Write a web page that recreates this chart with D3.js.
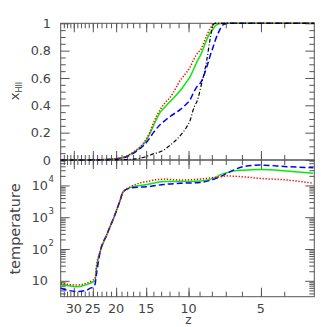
<!DOCTYPE html>
<html>
<head>
<meta charset="utf-8">
<script src="https://cdn.jsdelivr.net/npm/d3@7"></script>
<style>
  body { margin: 0; background: #fff; }
  svg text { font-family: "DejaVu Sans", sans-serif; fill: #444; }
  .tick line { stroke: #555; }
</style>
</head>
<body>
<div id="chart"></div>
<script>
// ionized fraction vs redshift (upper panel)
var zIon =      [34, 25, 22, 20, 18.3, 16.6, 15.3, 14.5, 14.0, 13.1, 12.5, 11.9, 10.8, 10.2, 9.85, 9.55, 9.1, 8.96, 8.4, 8.14, 7.89, 7.76, 7.52, 7.17, 6.8, 3];
var xhiiRed =   [0, 0.001, 0.004, 0.01, 0.025, 0.07, 0.13, 0.2, 0.27, 0.37, 0.42, 0.46, 0.585, 0.64, 0.68, 0.73, 0.79, 0.8, 0.91, 0.96, 0.99, 1, 1, 1, 1, 1];
var xhiiGreen = [0, 0.001, 0.004, 0.01, 0.024, 0.065, 0.12, 0.19, 0.25, 0.35, 0.39, 0.43, 0.51, 0.57, 0.61, 0.66, 0.74, 0.76, 0.88, 0.93, 0.96, 0.98, 0.995, 1, 1, 1];
var xhiiBlue =  [0, 0.001, 0.003, 0.008, 0.02, 0.06, 0.11, 0.16, 0.2, 0.26, 0.29, 0.32, 0.37, 0.41, 0.44, 0.49, 0.55, 0.56, 0.68, 0.76, 0.83, 0.87, 0.93, 0.99, 1, 1];
var xhiiBlack = [0, 0, 0, 0.001, 0.003, 0.008, 0.02, 0.035, 0.045, 0.06, 0.08, 0.11, 0.18, 0.24, 0.29, 0.37, 0.46, 0.51, 0.73, 0.88, 0.99, 1, 1, 1, 1, 1];

// temperature vs redshift (lower panel)
var zTemp =     [34, 32, 29.2, 26.5, 25.7, 24.9, 24.5, 24.1, 23.3, 21.9, 20.5, 19.3, 18.7, 17.4, 15.9, 14.9, 12.7, 10.8, 8.96, 7.63, 7.4, 6.94, 6.51, 5.92, 5.0, 3.9, 3.03];
var tempRed =   [8.3, 7.8, 7.4, 8.5, 9.3, 10.7, 11.5, 32, 83, 275, 930, 3200, 6300, 9100, 12000, 13200, 15800, 14800, 15800, 18200, 18600, 20000, 19500, 18600, 16600, 14800, 11700];
var tempGreen = [7.4, 7.1, 6.5, 7.6, 8.3, 9.3, 9.8, 28, 83, 275, 930, 3200, 6300, 8700, 10000, 10700, 13200, 13200, 13800, 18600, 21400, 25100, 28200, 30200, 31600, 28200, 24000];
var tempBlue =  [5.8, 5.1, 4.6, 5.1, 5.8, 6.5, 7.6, 17.8, 83, 275, 930, 3200, 6300, 8300, 8900, 9100, 10700, 11700, 12300, 17000, 18600, 24000, 30200, 38900, 43600, 38900, 36300];

// axis ticks and labels
var zTicks = [30, 25, 20, 15, 10, 5];
var zMinor = d3.range(4, 34);
var xhiiTicks = [0, 0.2, 0.4, 0.6, 0.8, 1];
var xhiiTickLabels = ["0", "0.2", "0.4", "0.6", "0.8", "1"];
var tempTicks = [10, 100, 1000, 10000];
var tempTickExp = ["", "2", "3", "4"];

var W = 327, H = 327;
var left = 60.7, right = 314.3, top1 = 23.3, mid = 160, bot = 296.7;

var svg = d3.select("#chart").append("svg")
  .attr("width", W).attr("height", H);

var x = d3.scaleLog().domain([34, 3]).range([left, right]);
var yIon = d3.scaleLinear().domain([0, 1]).range([mid, top1]);
var yTemp = d3.scaleLog().domain([Math.pow(10, 0.5), Math.pow(10, 4.8)]).range([bot, mid]);

var minorTemp = [];
[1, 10, 100, 1000, 10000].forEach(function(d) {
  for (var k = 2; k <= 9; k++) {
    var v = d * k;
    if (v >= yTemp.domain()[0] && v <= yTemp.domain()[1]) minorTemp.push(v);
  }
});
var minorIon = d3.range(0, 1.0001, 0.05).filter(function(v) { return Math.abs(v * 5 - Math.round(v * 5)) > 1e-6; });

// draw ticks with d3 axes, no domain path
function ticks(axisFn, scale, values, size, tx, ty) {
  var g = svg.append("g")
    .attr("transform", "translate(" + tx + "," + ty + ")")
    .call(axisFn(scale).tickValues(values).tickSize(size).tickFormat(""));
  g.select(".domain").remove();
}
var MAJ = -9, MIN = -5;

// top panel
ticks(d3.axisLeft, yIon, xhiiTicks, MAJ, left, 0);
ticks(d3.axisLeft, yIon, minorIon, MIN, left, 0);
ticks(d3.axisRight, yIon, xhiiTicks, MAJ, right, 0);
ticks(d3.axisRight, yIon, minorIon, MIN, right, 0);
ticks(d3.axisTop, x, zTicks, MAJ, 0, top1);
ticks(d3.axisTop, x, zMinor, MIN, 0, top1);
ticks(d3.axisBottom, x, zTicks, MAJ, 0, mid);
ticks(d3.axisBottom, x, zMinor, MIN, 0, mid);
// bottom panel
ticks(d3.axisLeft, yTemp, tempTicks, MAJ, left, 0);
ticks(d3.axisLeft, yTemp, minorTemp, MIN, left, 0);
ticks(d3.axisRight, yTemp, tempTicks, MAJ, right, 0);
ticks(d3.axisRight, yTemp, minorTemp, MIN, right, 0);
ticks(d3.axisTop, x, zTicks, MAJ, 0, mid);
ticks(d3.axisTop, x, zMinor, MIN, 0, mid);
ticks(d3.axisBottom, x, zTicks, MAJ, 0, bot);
ticks(d3.axisBottom, x, zMinor, MIN, 0, bot);

// frames
[[top1, mid], [mid, bot]].forEach(function(p) {
  svg.append("rect")
    .attr("x", left).attr("y", p[0])
    .attr("width", right - left).attr("height", p[1] - p[0])
    .attr("fill", "none").attr("stroke", "#555").attr("stroke-width", 1);
});

// curves
function drawLine(zs, vs, yScale, color, dash, w) {
  var pts = zs.map(function(z, i) { return [x(z), yScale(vs[i])]; });
  svg.append("path")
    .attr("d", d3.line().curve(d3.curveMonotoneX)(pts))
    .attr("fill", "none")
    .attr("stroke", color)
    .attr("stroke-width", w)
    .attr("stroke-dasharray", dash);
}
drawLine(zIon, xhiiGreen, yIon, "#00ee00", null, 1.5);
drawLine(zIon, xhiiBlue, yIon, "#0000ff", "6 3", 1.5);
drawLine(zIon, xhiiRed, yIon, "#ff0000", "1.3 1.7", 1.5);
drawLine(zIon, xhiiBlack, yIon, "#000", "4 2 1 2", 1.2);

drawLine(zTemp, tempGreen, yTemp, "#00ee00", null, 1.5);
drawLine(zTemp, tempBlue, yTemp, "#0000ff", "6 3", 1.5);
drawLine(zTemp, tempRed, yTemp, "#ff0000", "1.3 1.7", 1.5);

// tick labels
var FS = 12.8;
svg.selectAll(".ylab1").data(xhiiTicks).enter().append("text")
  .attr("x", 51).attr("y", function(d) { return yIon(d); })
  .attr("dy", "0.36em")
  .attr("text-anchor", "end")
  .style("font-size", FS + "px")
  .text(function(d, i) { return xhiiTickLabels[i]; });

tempTicks.forEach(function(t, i) {
  var yy = yTemp(t);
  svg.append("text")
    .attr("x", 48).attr("y", yy).attr("dy", "0.36em")
    .attr("text-anchor", "end")
    .style("font-size", FS + "px")
    .text("10");
  if (tempTickExp[i]) {
    svg.append("text")
      .attr("x", 48.5).attr("y", yy - 3)
      .style("font-size", "8.5px")
      .text(tempTickExp[i]);
  }
});

svg.selectAll(".xlab").data(zTicks).enter().append("text")
  .attr("x", function(d) { return x(d); })
  .attr("y", 313)
  .attr("text-anchor", "middle")
  .style("font-size", FS + "px")
  .text(function(d) { return d; });

// axis titles
svg.append("text")
  .attr("x", 188.5).attr("y", 323.5)
  .attr("text-anchor", "middle")
  .style("font-size", "12px")
  .text("z");

var t1 = svg.append("text")
  .attr("transform", "translate(18.5,91) rotate(-90)")
  .attr("text-anchor", "middle")
  .style("font-size", "13px");
t1.append("tspan").text("x");
t1.append("tspan").attr("dy", 3.5).style("font-size", "8px").text("HII");

svg.append("text")
  .attr("transform", "translate(20,229) rotate(-90)")
  .attr("text-anchor", "middle")
  .style("font-size", "14.5px")
  .text("temperature");
</script>
</body>
</html>
